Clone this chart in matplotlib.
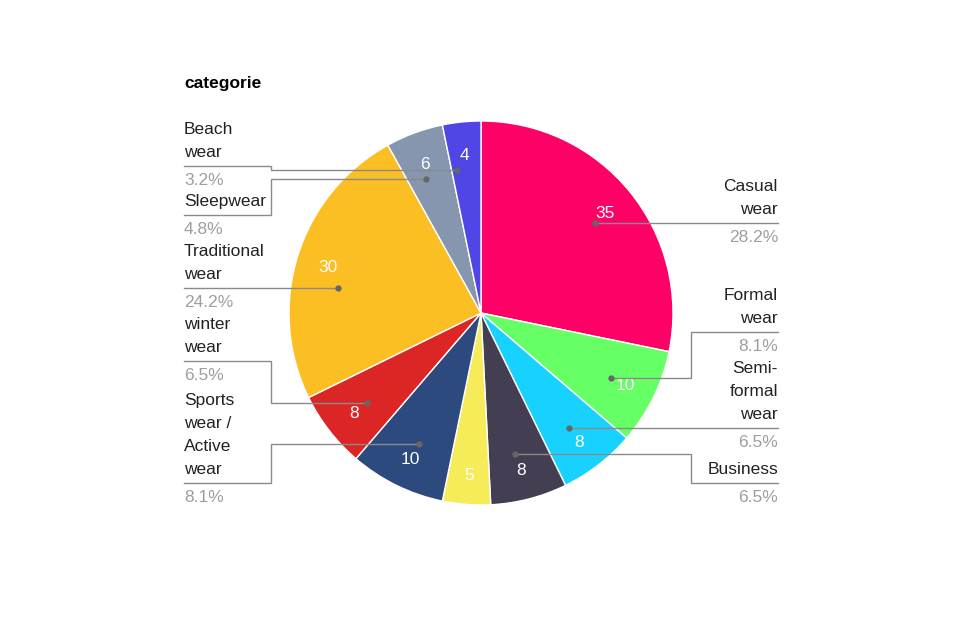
import matplotlib
matplotlib.use("Agg")
import matplotlib.pyplot as plt

# ---- data ----
categories = ["Casual\nwear", "Formal\nwear", "Semi-\nformal\nwear", "Business", "",
              "Sports\nwear /\nActive\nwear", "winter\nwear", "Traditional\nwear",
              "Sleepwear", "Beach\nwear"]
values = [35, 10, 8, 8, 5, 10, 8, 30, 6, 4]
colors = ["#FF0066", "#66FF66", "#17D1FE", "#433E52", "#F6EC5A",
          "#2C4A7E", "#DC2626", "#FBBF24", "#8796AF", "#5046E5"]
title = "categorie"

# ---- layout (pixels) ----
W, H = 960, 625
CX, CY, R = 481, 313, 192
# per slice: side, underline y, dot y (None = no label)
label_layout = [("R", 223, 223), ("R", 332, 378), ("R", 428, 428), ("R", 483, 454), None,
                ("L", 483, 444), ("L", 361, 403), ("L", 288, 288), ("L", 215, 179), ("L", 166, 170)]
LEFT_X0, LEFT_X1 = 184, 271
RIGHT_X0, RIGHT_X1 = 691, 778

plt.rcParams['font.family'] = ['Liberation Sans', 'DejaVu Sans']
fig = plt.figure(figsize=(W / 100, H / 100), dpi=100)

# pie axes
ax = fig.add_axes([(CX - R) / W, (H - (CY + R)) / H, 2 * R / W, 2 * R / H])
total = sum(values)
wedges, _, autotexts = ax.pie(
    values, colors=colors, startangle=90, counterclock=False, radius=1,
    wedgeprops=dict(edgecolor="white", linewidth=1),
    autopct=lambda p: f"{p * total / 100:.0f}", pctdistance=0.835,
    textprops=dict(color="white", fontsize=12.5))
for t in autotexts:
    x, y = t.get_position()
    t.set_position((x, y - 0.012))
ax.set_xlim(-1, 1)
ax.set_ylim(-1, 1)
ax.set_aspect("equal")
ax.axis("off")

# overlay axes in pixel coords
ov = fig.add_axes([0, 0, 1, 1], zorder=5)
ov.set_xlim(0, W)
ov.set_ylim(H, 0)
ov.axis("off")
ov.patch.set_alpha(0)

ov.text(LEFT_X0, 88, title, fontsize=12.5, fontweight="bold", color="#000000", va="baseline")

line_col = "#8a8a8a"
rdot = 145
for name, v, lay in zip(categories, values, label_layout):
    if lay is None or not name:
        continue
    side, uy, dy = lay
    dx = (max(rdot ** 2 - (dy - CY) ** 2, 0)) ** 0.5
    if side == "L":
        px = CX - dx
        ex, tx1, ha, tx = LEFT_X1, LEFT_X0, "left", LEFT_X0
    else:
        px = CX + dx
        ex, tx1, ha, tx = RIGHT_X0, RIGHT_X1, "right", RIGHT_X1
    ov.plot([px, ex, ex, tx1], [dy, dy, uy, uy], color=line_col, lw=1, solid_joinstyle="miter")
    ov.plot([px], [dy], "o", color="#666666", ms=3.5)
    lines = name.split("\n")
    n = len(lines)
    for i, ln in enumerate(lines):
        by = uy - 9 - 23 * (n - 1 - i)
        ov.text(tx, by, ln, fontsize=12.5, color="#222222", ha=ha, va="baseline")
    ov.text(tx, uy + 19, f"{v / total * 100:.1f}%", fontsize=12.5, color="#9E9E9E",
            ha=ha, va="baseline")

fig.savefig("out.png", dpi=100)
